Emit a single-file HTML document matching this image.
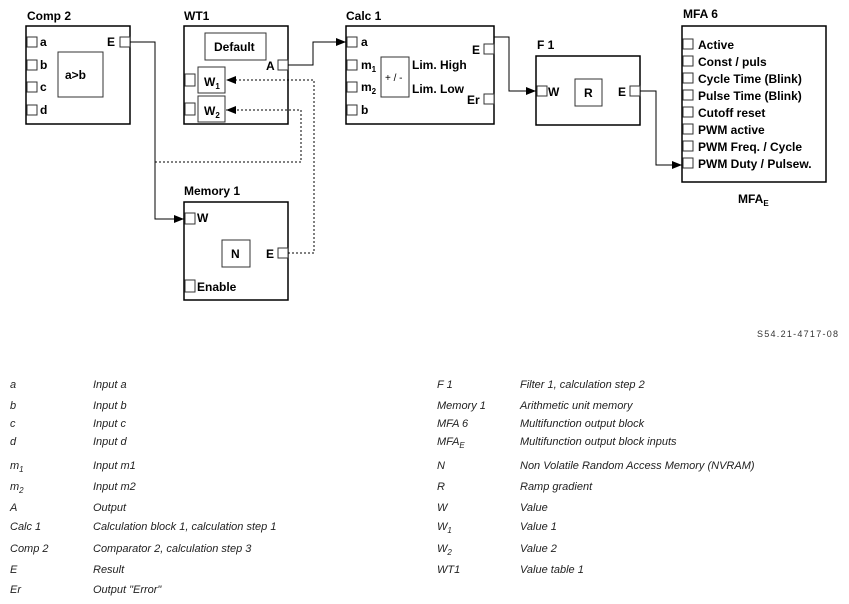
<!DOCTYPE html>
<html><head><meta charset="utf-8"><style>
body{margin:0;background:#fff;width:849px;height:604px;overflow:hidden}
svg{display:block}
.t{font-family:"Liberation Sans",Arial,sans-serif;font-weight:bold;font-size:12px;fill:#000}
.l{font-family:"Liberation Sans Narrow","Liberation Sans",sans-serif;font-style:italic;font-size:11px;fill:#222}
</style></head><body>
<svg width="849" height="604" viewBox="0 0 849 604" xmlns="http://www.w3.org/2000/svg">
<defs><marker id="ar" markerWidth="10" markerHeight="8" refX="10" refY="4" orient="auto" markerUnits="userSpaceOnUse"><path d="M0,0 L10,4 L0,8 z" fill="#000"/></marker></defs>
<g fill="#fff" stroke="#000" stroke-width="1.5">
<rect x="26" y="26" width="104" height="98"/>
<rect x="184" y="26" width="104" height="98"/>
<rect x="346" y="26" width="148" height="98"/>
<rect x="536" y="56" width="104" height="69"/>
<rect x="682" y="26" width="144" height="156"/>
<rect x="184" y="202" width="104" height="98"/>
</g>
<g fill="#fff" stroke="#333" stroke-width="1">
<rect x="58" y="52" width="45" height="45"/>
<rect x="205" y="33" width="61" height="27"/>
<rect x="198" y="67" width="27" height="26"/>
<rect x="198" y="96" width="27" height="26"/>
<rect x="381" y="57" width="28" height="40"/>
<rect x="575" y="79" width="27" height="27"/>
<rect x="222" y="240" width="28" height="27"/>
<rect x="27" y="37" width="10" height="10"/><rect x="27" y="60" width="10" height="10"/><rect x="27" y="82" width="10" height="10"/><rect x="27" y="105" width="10" height="10"/>
<rect x="120" y="37" width="10" height="10"/>
<rect x="278" y="60" width="10" height="10"/>
<rect x="185" y="74" width="10" height="12"/><rect x="185" y="103" width="10" height="12"/>
<rect x="347" y="37" width="10" height="10"/><rect x="347" y="60" width="10" height="10"/><rect x="347" y="82" width="10" height="10"/><rect x="347" y="105" width="10" height="10"/>
<rect x="484" y="44" width="10" height="10"/><rect x="484" y="94" width="10" height="10"/>
<rect x="537" y="86" width="10" height="10"/><rect x="630" y="86" width="10" height="10"/>
<rect x="683" y="39" width="10" height="10"/><rect x="683" y="56" width="10" height="10"/><rect x="683" y="73" width="10" height="10"/><rect x="683" y="90" width="10" height="10"/><rect x="683" y="107" width="10" height="10"/><rect x="683" y="124" width="10" height="10"/><rect x="683" y="141" width="10" height="10"/><rect x="683" y="158" width="10" height="10"/>
<rect x="185" y="213" width="10" height="11"/><rect x="278" y="248" width="10" height="10"/><rect x="185" y="280" width="10" height="12"/>
</g>
<g fill="none" stroke="#000" stroke-width="1">
<path d="M130,42 H155 V219 H184" marker-end="url(#ar)"/>
<path d="M288,65 H313 V42 H346" marker-end="url(#ar)"/>
<path d="M494,37 H509 V91 H536" marker-end="url(#ar)"/>
<path d="M640,91 H656 V165 H682" marker-end="url(#ar)"/>
<path d="M155,162 H301 V110 H226" stroke-dasharray="2,2" marker-end="url(#ar)"/>
<path d="M288,253 H314 V80 H226" stroke-dasharray="2,2" marker-end="url(#ar)"/>
</g>
<g class="t">
<text x="27" y="20">Comp 2</text><text x="184" y="20">WT1</text><text x="346" y="20">Calc 1</text><text x="537" y="49">F 1</text><text x="683" y="18">MFA 6</text><text x="184" y="195">Memory 1</text>
<text x="40" y="46">a</text><text x="40" y="69">b</text><text x="40" y="91">c</text><text x="40" y="114">d</text>
<text x="65" y="79">a&gt;b</text><text x="107" y="46">E</text>
<text x="214" y="51">Default</text><text x="266" y="70">A</text>
<text x="204" y="86">W<tspan font-size="8" dy="3">1</tspan></text>
<text x="204" y="115">W<tspan font-size="8" dy="3">2</tspan></text>
<text x="361" y="46">a</text><text x="361" y="69">m<tspan font-size="8" dy="3">1</tspan></text><text x="361" y="91">m<tspan font-size="8" dy="3">2</tspan></text><text x="361" y="114">b</text>
<text x="385" y="81" font-size="10" font-weight="normal">+ / -</text>
<text x="412" y="69">Lim. High</text><text x="412" y="93">Lim. Low</text>
<text x="472" y="54">E</text><text x="467" y="104">Er</text>
<text x="548" y="96">W</text><text x="584" y="97">R</text><text x="618" y="96">E</text>
<text x="698" y="49">Active</text><text x="698" y="66">Const / puls</text><text x="698" y="83">Cycle Time (Blink)</text><text x="698" y="100">Pulse Time (Blink)</text><text x="698" y="117">Cutoff reset</text><text x="698" y="134">PWM active</text><text x="698" y="151">PWM Freq. / Cycle</text><text x="698" y="168">PWM Duty / Pulsew.</text>
<text x="738" y="203">MFA<tspan font-size="8" dy="3">E</tspan></text>
<text x="197" y="222">W</text><text x="231" y="258">N</text><text x="266" y="258">E</text><text x="197" y="291">Enable</text>
</g>
<text x="757" y="337" font-family="Liberation Sans Narrow,Liberation Sans,sans-serif" font-size="9" fill="#333" textLength="81">S54.21-4717-08</text>
<g class="l">
<text x="10" y="388">a</text><text x="93" y="388">Input a</text>
<text x="10" y="409">b</text><text x="93" y="409">Input b</text>
<text x="10" y="427">c</text><text x="93" y="427">Input c</text>
<text x="10" y="445">d</text><text x="93" y="445">Input d</text>
<text x="10" y="469">m<tspan font-size="8" dy="3">1</tspan></text><text x="93" y="469">Input m1</text>
<text x="10" y="490">m<tspan font-size="8" dy="3">2</tspan></text><text x="93" y="490">Input m2</text>
<text x="10" y="511">A</text><text x="93" y="511">Output</text>
<text x="10" y="530">Calc 1</text><text x="93" y="530">Calculation block 1, calculation step 1</text>
<text x="10" y="552">Comp 2</text><text x="93" y="552">Comparator 2, calculation step 3</text>
<text x="10" y="573">E</text><text x="93" y="573">Result</text>
<text x="10" y="593">Er</text><text x="93" y="593">Output "Error"</text>
<text x="437" y="388">F 1</text><text x="520" y="388">Filter 1, calculation step 2</text>
<text x="437" y="409">Memory 1</text><text x="520" y="409">Arithmetic unit memory</text>
<text x="437" y="427">MFA 6</text><text x="520" y="427">Multifunction output block</text>
<text x="437" y="445">MFA<tspan font-size="8" dy="3">E</tspan></text><text x="520" y="445">Multifunction output block inputs</text>
<text x="437" y="469">N</text><text x="520" y="469">Non Volatile Random Access Memory (NVRAM)</text>
<text x="437" y="490">R</text><text x="520" y="490">Ramp gradient</text>
<text x="437" y="511">W</text><text x="520" y="511">Value</text>
<text x="437" y="530">W<tspan font-size="8" dy="3">1</tspan></text><text x="520" y="530">Value 1</text>
<text x="437" y="552">W<tspan font-size="8" dy="3">2</tspan></text><text x="520" y="552">Value 2</text>
<text x="437" y="573">WT1</text><text x="520" y="573">Value table 1</text>
</g>
</svg>
</body></html>
